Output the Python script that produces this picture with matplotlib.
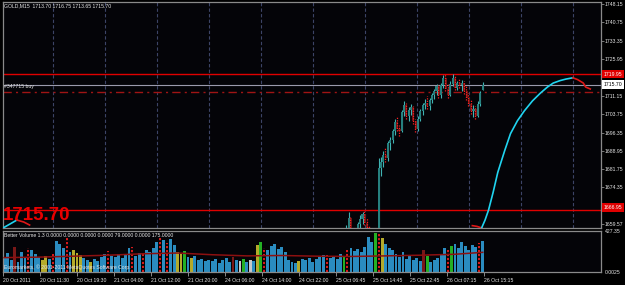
import matplotlib
matplotlib.use('Agg')
import matplotlib.pyplot as plt
import numpy as np
from matplotlib.transforms import blended_transform_factory

plt.rcParams['font.family'] = ['Liberation Sans', 'DejaVu Sans']

# ---------------- data ----------------
title_text = "GOLD,M15  1713.70 1716.75 1713.65 1715.70"
ind_text = "Better Volume 1.3 0.0000 0.0000 0.0000 0.0000 79.0000 0.0000 175.0000"
footer_text = "Euromarkets, \u00a9 2001-2011 MetaQuotes Software Corp."
order_text = "#347715 buy"
big_price_text = "1715.70"

# candles (one every 2 M15 bars, starting at bar 297)
c_open = [1656.5, 1657.5, 1662.0, 1657.0, 1655.5, 1656.0, 1659.5, 1661.5, 1663.5, 1660.0,
          1658.0, 1656.0, 1656.5, 1656.0, 1657.5, 1682.0, 1684.5, 1687.5, 1686.0, 1692.0,
          1693.5, 1697.0, 1700.5, 1698.0, 1697.0, 1704.5, 1707.5, 1703.0, 1705.5, 1706.5,
          1701.0, 1698.0, 1702.0, 1705.0, 1707.5, 1708.5, 1707.0, 1709.5, 1711.5, 1713.0,
          1715.0, 1711.5, 1715.5, 1718.5, 1714.0, 1711.5, 1716.0, 1718.5, 1714.5, 1716.5,
          1715.5, 1716.5, 1713.0, 1710.5, 1708.0, 1705.0, 1706.0, 1703.0, 1708.0, 1713.70]
c_high = [1659.0, 1664.3, 1662.5, 1658.0, 1657.0, 1660.5, 1663.0, 1664.5, 1664.8, 1662.0,
          1659.0, 1657.5, 1657.5, 1658.0, 1686.0, 1686.5, 1689.0, 1690.0, 1693.0, 1694.5,
          1698.0, 1702.0, 1703.0, 1699.5, 1705.5, 1709.0, 1708.5, 1706.5, 1708.0, 1707.0,
          1702.0, 1703.0, 1706.0, 1708.5, 1710.0, 1711.0, 1710.5, 1712.5, 1714.0, 1716.0,
          1715.5, 1716.5, 1719.5, 1720.0, 1716.0, 1717.0, 1720.0, 1719.0, 1717.0, 1718.0,
          1717.5, 1717.0, 1715.0, 1712.5, 1709.5, 1707.5, 1707.0, 1709.0, 1713.0, 1716.75]
c_low = [1655.0, 1656.8, 1656.0, 1654.5, 1654.0, 1655.5, 1658.0, 1659.5, 1659.0, 1657.0,
         1655.0, 1654.5, 1655.0, 1655.0, 1657.0, 1679.0, 1682.5, 1684.5, 1685.0, 1689.5,
         1692.0, 1695.5, 1697.0, 1695.0, 1696.5, 1703.0, 1702.0, 1701.0, 1703.5, 1700.0,
         1696.5, 1697.0, 1701.0, 1703.5, 1706.0, 1706.0, 1705.5, 1708.5, 1710.0, 1711.5,
         1710.5, 1710.5, 1714.5, 1713.0, 1710.5, 1711.0, 1715.0, 1713.5, 1713.5, 1714.5,
         1713.0, 1712.0, 1709.5, 1707.0, 1704.0, 1702.5, 1702.0, 1702.5, 1707.0, 1713.65]
c_close = [1657.5, 1662.0, 1657.0, 1655.5, 1656.0, 1659.5, 1661.5, 1663.5, 1660.0, 1658.0,
           1656.0, 1656.5, 1656.0, 1657.5, 1682.0, 1684.5, 1687.5, 1686.0, 1692.0, 1693.5,
           1697.0, 1700.5, 1698.0, 1697.0, 1704.5, 1707.5, 1703.0, 1705.5, 1706.5, 1701.0,
           1698.0, 1702.0, 1705.0, 1707.5, 1708.5, 1707.0, 1709.5, 1711.5, 1713.0, 1715.0,
           1711.5, 1715.5, 1718.5, 1714.0, 1711.5, 1716.0, 1718.5, 1714.5, 1716.5, 1715.5,
           1716.5, 1713.0, 1710.5, 1708.0, 1705.0, 1706.0, 1703.0, 1708.0, 1712.5, 1715.70]

# projection curve (bar index, price)
left_up_x = [0, 6, 12]
left_up_y = [1657.95, 1659.55, 1661.15]
left_dn_x = [12, 18, 23]
left_dn_y = [1661.15, 1660.35, 1659.15]
pre_dn_x = [406, 410, 414]
pre_dn_y = [1658.9, 1658.6, 1658.0]
curve_up_x = [414, 417, 420, 424, 428, 434, 439, 445, 451, 458, 465, 471, 476, 482, 487, 493]
curve_up_y = [1657.95, 1661.15, 1665.15, 1672.35, 1680.35, 1689.15, 1695.95, 1701.15,
              1705.15, 1709.15, 1712.35, 1714.75, 1716.35, 1717.35, 1717.95, 1718.47]
curve_dn_x = [493, 497, 502, 504, 508]
curve_dn_y = [1718.47, 1717.75, 1716.35, 1714.75, 1713.95]

tp_level = 1719.95
sl_level = 1665.3
entry_level = 1712.9
bid_level = 1715.70
tp_label = "1719.95"
sl_label = "1666.95"
bid_label = "1715.70"

# axis labels not hidden behind the level boxes
price_ticks = [1748.15, 1740.75, 1733.35, 1725.95, 1711.15, 1703.75, 1696.35,
               1688.95, 1681.75, 1674.35, 1659.57]

# volume (one bar every 3 M15 bars)
volume = [145, 195, 125, 260, 105, 205, 145, 250, 230, 185,
          155, 125, 165, 135, 185, 320, 290, 250, 350, 210,
          230, 200, 175, 145, 125, 105, 135, 115, 155, 185,
          215, 165, 155, 185, 145, 175, 250, 260, 165, 195,
          195, 230, 210, 250, 310, 350, 330, 300, 340, 280,
          210, 185, 215, 155, 145, 165, 125, 135, 115, 125,
          115, 135, 95, 125, 145, 105, 160, 125, 115, 135,
          105, 125, 115, 280, 310, 250, 230, 270, 290, 240,
          260, 210, 125, 105, 95, 115, 135, 125, 145, 105,
          135, 155, 175, 180, 145, 165, 135, 185, 155, 230,
          250, 220, 240, 210, 260, 370, 310, 410, 395, 350,
          290, 250, 230, 185, 155, 210, 135, 175, 125, 145,
          115, 230, 165, 105, 125, 145, 185, 250, 230, 270,
          290, 250, 310, 270, 230, 280, 260, 300, 320]
vol_kind = ("bbbmbbbrbb" "byybrbbbrb" "yyybbybbbb" "rbbbbbbrbb" "rbbbbrbrbb"
            "yygbybbbbb" "bbbbbbmbwg" "bwbygrbbbb" "bbbbbybbbb" "bbbrbbbbgr"
            "bbbbbbbgry" "bbbbbbbbbb" "bmgbbbbbrg" "bbbbbbbrb")
ma_x = [1, 31, 61, 91, 121, 151, 181, 211, 241, 271, 301, 331, 361, 391, 415]
ma_vals = [150, 155, 165, 175, 190, 198, 180, 168, 172, 165, 162, 168, 175, 185, 205]

time_labels = ["20 Oct 2011", "20 Oct 11:30", "20 Oct 19:30", "21 Oct 04:00", "21 Oct 12:00",
               "21 Oct 20:00", "24 Oct 06:00", "24 Oct 14:00", "24 Oct 22:00", "25 Oct 06:45",
               "25 Oct 14:45", "25 Oct 22:45", "26 Oct 07:15", "26 Oct 15:15"]

# ---------------- figure ----------------
BG = '#040408'
GRAY = '#8a8a8a'
TXT = '#e6e6e6'
FS = 3.7

fig = plt.figure(figsize=(6.25, 2.85), dpi=100, facecolor='black')
ax = fig.add_axes([3/625, 1-228/285, 598/625, 226/285], facecolor=BG)
ax2 = fig.add_axes([3/625, 1-272/285, 598/625, 41/285], facecolor=BG)

XMAX = 517.3
ax.set_xlim(0, XMAX)
ax.set_ylim(1657.95, 1749.0)
ax2.set_xlim(0, XMAX)
ax2.set_ylim(0, 427.35)

for a in (ax, ax2):
    for s in a.spines.values():
        s.set_color(GRAY)
        s.set_linewidth(0.9)

# vertical grid
grid_x = np.arange(43.3, XMAX, 45.0)
for gx in grid_x:
    ax.axvline(gx, color='#3c4466', lw=0.8, ls=(0, (3, 2)), zorder=0.5)

# horizontal levels
ax.axhline(tp_level, color='#e00000', lw=1.0, zorder=2)
ax.axhline(sl_level, color='#e00000', lw=1.0, zorder=2)
ax.axhline(bid_level, color='#9a9aac', lw=0.8, zorder=2)
ax.axhline(entry_level, color='#a01414', lw=1.0, ls=(0, (6, 3, 1.5, 3)), zorder=2)

# candles
cx = np.arange(297, 297 + 2 * len(c_open), 2)
o = np.array(c_open); h = np.array(c_high); l = np.array(c_low); c = np.array(c_close)
up = c >= o
ax.vlines(cx[up], l[up], h[up], color='#3fb3b3', lw=0.8, zorder=3)
ax.vlines(cx[~up] - 0.4, l[~up], h[~up], color='#ff2020', lw=0.9, ls=(0, (1, 1)), zorder=3.6)
ax.bar(cx[up], (c - o)[up], bottom=o[up], width=1.8, color='#26807f', zorder=3.5, linewidth=0)
ax.bar(cx[~up], (o - c)[~up], bottom=c[~up], width=1.8, color='#6a1414', zorder=3.5, linewidth=0)

# projection curve
ax.plot(left_up_x, left_up_y, color='#20d4f0', lw=1.2, zorder=4)
ax.plot(left_dn_x, left_dn_y, color='#e01818', lw=1.2, zorder=4)
ax.plot(pre_dn_x, pre_dn_y, color='#e01818', lw=1.2, zorder=4)
ax.plot(curve_up_x, curve_up_y, color='#20d4f0', lw=1.2, zorder=4)
ax.plot(curve_dn_x, curve_dn_y, color='#e01818', lw=1.2, zorder=4)

# texts in main panel
ax.text(0.002, 1 - 4/226, title_text, transform=ax.transAxes, fontsize=FS, color=TXT,
        va='center', ha='left')
ax.text(1.0, bid_level - 0.6, order_text, fontsize=FS, color=TXT, va='center', ha='left',
        zorder=5)
ax.text(0.0, 1663.0, big_price_text, fontsize=13.5, fontweight='bold', color='#e80000',
        va='center', ha='left', zorder=6)

# right axis
ax.yaxis.tick_right()
ax.set_yticks(price_ticks)
ax.set_yticklabels([f"{v:.2f}" for v in price_ticks])
ax.tick_params(axis='y', colors=GRAY, labelcolor=TXT, length=1.8, width=0.6, pad=1.0,
               labelsize=FS)
ax.set_xticks([])

tr = blended_transform_factory(ax.transAxes, ax.transData)
ax.text(1.004, tp_level, tp_label, transform=tr, fontsize=FS, color='#ffffff', va='center',
        ha='left', zorder=10, clip_on=False,
        bbox=dict(boxstyle='square,pad=0.35', fc='#e00000', ec='none'))
ax.text(1.004, sl_level + 1.0, sl_label, transform=tr, fontsize=FS, color='#ffffff',
        va='center', ha='left', zorder=10, clip_on=False,
        bbox=dict(boxstyle='square,pad=0.35', fc='#e00000', ec='none'))
ax.text(1.004, bid_level, bid_label, transform=tr, fontsize=FS, color='#000000', va='center',
        ha='left', zorder=10, clip_on=False,
        bbox=dict(boxstyle='square,pad=0.35', fc='#ffffff', ec='none'))

# volume panel
color_map = {'b': '#2a8cc0', 'y': '#b4aa2a', 'g': '#24b024', 'r': '#ee1c1c',
             'w': '#c8c8c8', 'm': '#7a1818'}
vx = np.arange(1, 1 + 3 * len(volume), 3)
vol = np.array(volume)
kinds = np.array(list(vol_kind))
solid = kinds != 'r'
ax2.bar(vx[solid], vol[solid], width=2.5, color=[color_map[k] for k in kinds[solid]],
        linewidth=0, zorder=2)
ax2.vlines(vx[~solid], 0, vol[~solid], color=color_map['r'], lw=1.3, ls=(0, (1.2, 1)),
           zorder=2.5)
ax2.plot(ma_x, ma_vals, color='#8c1010', lw=1.1, zorder=3)

ax2.text(0.002, 0.95, ind_text, transform=ax2.transAxes, fontsize=FS, color=TXT,
         va='top', ha='left', zorder=5)
ax2.text(0.002, 0.06, footer_text, transform=ax2.transAxes, fontsize=FS, color=TXT,
         va='bottom', ha='left', zorder=5)

ax2.yaxis.tick_right()
ax2.set_yticks([0, 427.35])
ax2.set_yticklabels(["0.0025", "427.35"])
ax2.tick_params(axis='y', colors=GRAY, labelcolor=TXT, length=0, pad=2.5, labelsize=FS)

tick_bars = np.arange(0, 32 * len(time_labels), 32)
ax2.set_xticks(tick_bars)
ax2.set_xticklabels(time_labels)
ax2.tick_params(axis='x', colors=GRAY, labelcolor=TXT, length=3, width=0.7, pad=1.5,
                labelsize=FS)
for lab in ax2.get_xticklabels():
    lab.set_ha('left')

fig.savefig('out.png', dpi=100, facecolor='black')
